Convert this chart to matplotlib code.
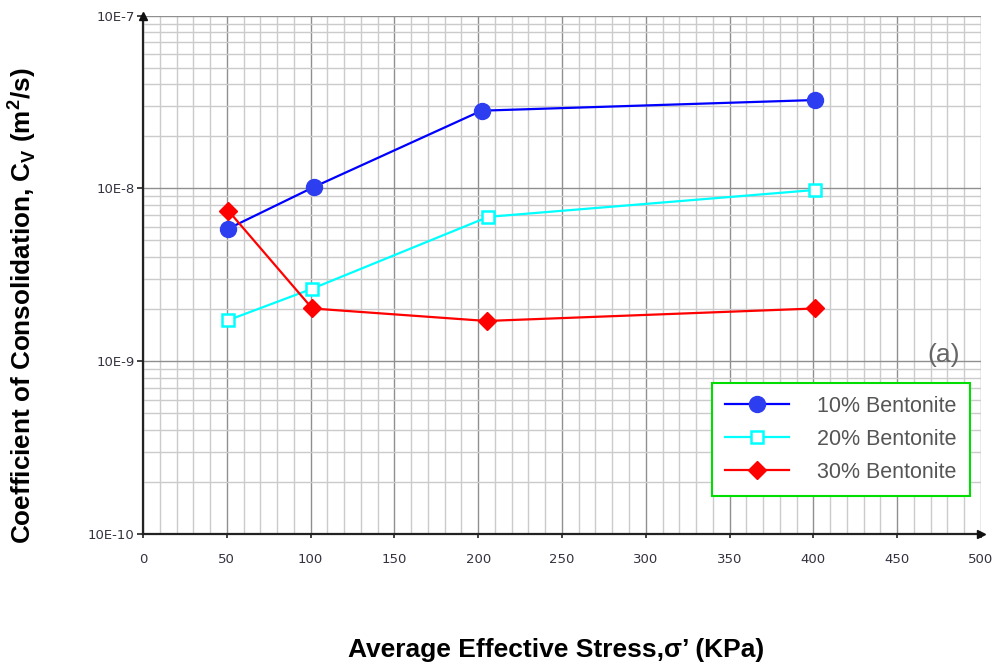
import math
import matplotlib
matplotlib.use("Agg")
import matplotlib.pyplot as plt
from matplotlib.ticker import FixedLocator, FuncFormatter, NullFormatter

plt.rcParams['font.family'] = ['Liberation Sans', 'DejaVu Sans']
plt.rcParams['mathtext.fontset'] = 'custom'
plt.rcParams['mathtext.rm'] = 'Liberation Sans'
plt.rcParams['mathtext.bf'] = 'Liberation Sans:bold'

# consolidation test results, Cv in m2/s
stress_10 = [51, 102, 202, 401]
cv_10 = [5.86e-9, 1.02e-8, 2.82e-8, 3.25e-8]

stress_20 = [51, 101, 206, 401]
cv_20 = [1.73e-9, 2.63e-9, 6.85e-9, 9.8e-9]

stress_30 = [51, 101, 205, 401]
cv_30 = [7.42e-9, 2.02e-9, 1.71e-9, 2.02e-9]

labels = ['10% Bentonite', '20% Bentonite', '30% Bentonite']

decades = [1e-10, 1e-9, 1e-8, 1e-7]

fig = plt.figure(figsize=(9.95, 6.71), dpi=100)
ax = fig.add_axes([0.1437, 0.2042, 0.8422, 0.7724])

ax.plot(stress_10, cv_10, color='#0000ff', lw=1.6, marker='o', ms=11.5,
        mfc='#2d3df0', mec='#2d3df0', label=labels[0], zorder=5)
ax.plot(stress_20, cv_20, color='#00ffff', lw=1.6, marker='s', ms=9,
        mfc='white', mec='#00ffff', mew=1.8, label=labels[1], zorder=5)
ax.plot(stress_30, cv_30, color='#ff0000', lw=1.6, marker='D', ms=9.5,
        mfc='#ff0000', mec='#ff0000', label=labels[2], zorder=5)

ax.set_yscale('log')
ax.set_xlim(0, 500)
ax.set_ylim(decades[0], decades[-1])

ax.xaxis.set_major_locator(FixedLocator(range(0, 501, 50)))
ax.xaxis.set_minor_locator(FixedLocator(range(0, 501, 10)))
ax.yaxis.set_major_locator(FixedLocator(decades))
ax.yaxis.set_minor_locator(FixedLocator([d * k for d in decades[:-1] for k in range(2, 10)]))
ax.yaxis.set_major_formatter(FuncFormatter(lambda v, p: '10E%d' % round(math.log10(v))))
ax.yaxis.set_minor_formatter(NullFormatter())

ax.grid(which='major', color='#8f8f8f', lw=1.0)
ax.grid(which='minor', color='#cbcbcb', lw=1.0)
ax.set_axisbelow(True)

for side in ['top', 'right']:
    ax.spines[side].set_visible(False)
for side in ['left', 'bottom']:
    ax.spines[side].set_color('#222222')
    ax.spines[side].set_linewidth(1.6)

ax.tick_params(axis='both', which='minor', length=0)
ax.tick_params(axis='x', which='major', length=3, width=1.2, color='#222222',
               pad=11, labelsize=9.5, labelcolor='#333340')
ax.tick_params(axis='y', which='major', length=4, width=1.2, color='#222222',
               pad=2, labelsize=9.5, labelcolor='#333340')
for t in ax.get_xticklabels() + ax.get_yticklabels():
    t.set_family('DejaVu Sans')

# arrow heads at the ends of the axes
ax.plot([0], [1], marker='^', color='#111111', ms=6, transform=ax.transAxes, clip_on=False, zorder=6)
ax.plot([1], [0], marker='>', color='#111111', ms=6, transform=ax.transAxes, clip_on=False, zorder=6)

leg = ax.legend(loc='upper left', bbox_to_anchor=(0.679, 0.2913), fontsize=15.5,
                handlelength=3.0, handletextpad=1.3, labelspacing=0.55,
                borderpad=0.6, borderaxespad=0, fancybox=False, framealpha=1)
leg.get_frame().set_edgecolor('#00dd00')
leg.get_frame().set_linewidth(1.5)
for t in leg.get_texts():
    t.set_color('#555555')

ax.text(0.975, 0.345, '(a)', transform=ax.transAxes, ha='right', va='center',
        fontsize=19, color='#666666')

fig.text(0.559, 0.032, 'Average Effective Stress,σ’ (KPa)', ha='center', va='center',
         fontsize=19, fontweight='bold')
fig.text(0.022, 0.544, r'Coefficient of Consolidation, C$_{\mathbf{V}}$ (m$^{\mathbf{2}}$/s)',
         ha='center', va='center', rotation=90, fontsize=18.8, fontweight='bold')

fig.savefig('out.png', dpi=100)
